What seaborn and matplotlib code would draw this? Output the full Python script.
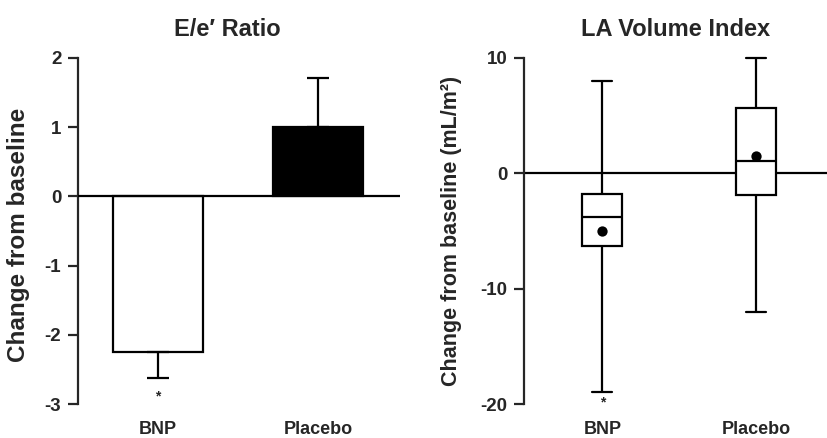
import numpy as np
import pandas as pd
import seaborn as sns
import matplotlib.pyplot as plt

# E/e' ratio: mean change and one-sided error
groups = ['BNP', 'Placebo']
ee_mean = [-2.25, 1.0]
ee_err = [0.37, 0.71]
bar_colors = ['white', 'black']

# LA volume index: whisker min, Q1, median, Q3, whisker max, and mean
la_min = [-19.0, -12.0]
la_q1 = [-6.3, -1.9]
la_median = [-3.8, 1.1]
la_q3 = [-1.8, 5.7]
la_max = [8.0, 10.0]
la_mean = [-5.0, 1.5]

sns.set_style('white')
plt.rcParams['font.family'] = ['Liberation Sans', 'DejaVu Sans']
plt.rcParams['font.weight'] = 'bold'
plt.rcParams['axes.unicode_minus'] = False

fig = plt.figure(figsize=(8.27, 4.38), dpi=100)
ax1 = fig.add_axes([0.0943, 0.0776, 0.3894, 0.79])
ax2 = fig.add_axes([0.6336, 0.0776, 0.3664, 0.79])

lw = 1.6

# ---- left panel: bars ----
df_bar = pd.DataFrame({'group': groups, 'value': ee_mean})
sns.barplot(data=df_bar, x='group', y='value', hue='group', palette=bar_colors,
            edgecolor='black', linewidth=lw, width=0.56, legend=False, ax=ax1)
# one-sided error bars: down for BNP, up for placebo
lower = [ee_err[0], 0]
upper = [0, ee_err[1]]
ax1.errorbar(x=[0, 1], y=ee_mean, yerr=[lower, upper], fmt='none',
             ecolor='black', elinewidth=lw, capsize=8, capthick=lw, zorder=1)
ax1.axhline(0, color='black', lw=lw, zorder=3)
ax1.text(0, ee_mean[0] - ee_err[0] - 0.27, '*', ha='center', va='center', fontsize=10)
ax1.set_ylim(-3, 2)
ax1.set_xlim(-0.5, 1.51)
ax1.set_yticks([-3, -2, -1, 0, 1, 2])
ax1.set_title('E/e\u2032 Ratio', fontsize=17, fontweight='bold', pad=16, x=0.463)
ax1.set_ylabel('Change from baseline', fontsize=17.5, fontweight='bold')
ax1.yaxis.set_label_coords(-0.15, 0.49)
ax1.set_xlabel('')

# ---- right panel: box plots ----
rows = []
for i, g in enumerate(groups):
    for v in [la_min[i], la_q1[i], la_median[i], la_q3[i], la_max[i]]:
        rows.append({'group': g, 'value': v})
df_box = pd.DataFrame(rows)
sns.boxplot(data=df_box, x='group', y='value', whis=(0, 100), width=0.26,
            color='white', linecolor='black', linewidth=lw, showcaps=True,
            showfliers=False, ax=ax2,
            capprops={'linewidth': lw}, whiskerprops={'linewidth': lw},
            medianprops={'linewidth': lw, 'color': 'black'})
for line in ax2.lines:
    line.set_clip_on(False)
df_mean = pd.DataFrame({'group': groups, 'value': la_mean})
sns.scatterplot(data=df_mean, x='group', y='value', color='black', s=55,
                linewidth=0, zorder=5, ax=ax2, legend=False)
ax2.axhline(0, color='black', lw=lw, zorder=0)
ax2.text(0, la_min[0] - 0.9, '*', ha='center', va='center', fontsize=10)
ax2.set_ylim(-20, 10)
ax2.set_xlim(-0.51, 1.46)
ax2.set_yticks([-20, -10, 0, 10])
ax2.set_title('LA Volume Index', fontsize=17, fontweight='bold', pad=16)
ax2.set_ylabel('Change from baseline (mL/m\u00b2)', fontsize=15.5, fontweight='bold')
ax2.yaxis.set_label_coords(-0.205, 0.5)
ax2.set_xlabel('')

for ax in (ax1, ax2):
    sns.despine(ax=ax, bottom=True)
    ax.spines['left'].set_linewidth(lw)
    ax.tick_params(axis='y', direction='out', length=7, width=lw, left=True,
                   labelsize=13.5, pad=5)
    ax.tick_params(axis='x', length=0, labelsize=13, pad=12.5)
    for t in ax.get_xticklabels() + ax.get_yticklabels():
        t.set_fontweight('bold')

fig.savefig('out.png', dpi=100)
